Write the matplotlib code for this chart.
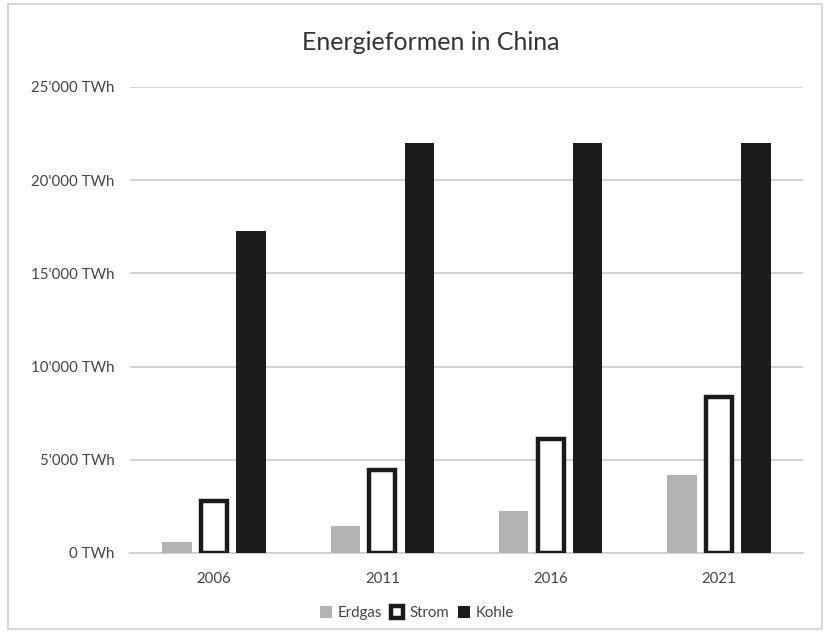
import matplotlib
matplotlib.use("Agg")
import matplotlib.pyplot as plt
from matplotlib.patches import Rectangle
import numpy as np

plt.rcParams['font.family'] = ['Lato', 'DejaVu Sans']

years = ["2006", "2011", "2016", "2021"]
erdgas = [600, 1450, 2250, 4180]
strom = [2800, 4450, 6100, 8370]
kohle = [17300, 22000, 22000, 22000]
yticks = [0, 5000, 10000, 15000, 20000, 25000]
ytick_labels = ["0 TWh", "5'000 TWh", "10'000 TWh", "15'000 TWh", "20'000 TWh", "25'000 TWh"]

W, H = 824, 633
fig = plt.figure(figsize=(W / 100, H / 100), dpi=100)
ax = fig.add_axes([130 / W, 1 - 553 / H, (803 - 130) / W, (553 - 87) / H])

x = np.arange(len(years))
bw = 0.175
off = 0.22
ax.bar(x - off, erdgas, bw, color="#b3b3b3", label="Erdgas", zorder=3)
ax.bar(x, strom, bw - 0.02, color="white", edgecolor="#1a1a1a", linewidth=3.2, label="Strom", zorder=3)
ax.bar(x + off, kohle, bw, color="#1c1c1c", label="Kohle", zorder=3)

ax.set_xlim(-0.5, len(years) - 0.5)
ax.set_ylim(0, 25000)
ax.set_yticks(yticks)
ax.set_yticklabels(ytick_labels)
ax.set_xticks(x)
ax.set_xticklabels(years)
ax.tick_params(axis='both', length=0, labelsize=10.8, colors="#444444")
ax.tick_params(axis='y', pad=11)
ax.tick_params(axis='x', pad=14)
ax.grid(axis='y', color="#cfcfcf", linewidth=1.3, zorder=0)
for s in ["top", "right", "left"]:
    ax.spines[s].set_visible(False)
ax.spines["bottom"].set_color("#cfcfcf")
ax.spines["bottom"].set_linewidth(1.3)

fig.text(431 / W, 1 - 42 / H, "Energieformen in China", ha="center", va="center",
         fontsize=18, color="#333333")

handles, labels = ax.get_legend_handles_labels()
leg = fig.legend(handles, labels, loc="center", bbox_to_anchor=(417 / W, 1 - 613 / H),
                 ncol=3, frameon=False, fontsize=10.8, handlelength=0.8, handleheight=0.8,
                 handletextpad=0.4, columnspacing=0.6, labelcolor="#444444")

fig.patches.append(Rectangle((8 / W, 4 / H), (822 - 8) / W, (629 - 4) / H,
                             transform=fig.transFigure, fill=False,
                             edgecolor="#d0d0d0", linewidth=1.2))

fig.savefig("out.png", dpi=100, facecolor="white")
